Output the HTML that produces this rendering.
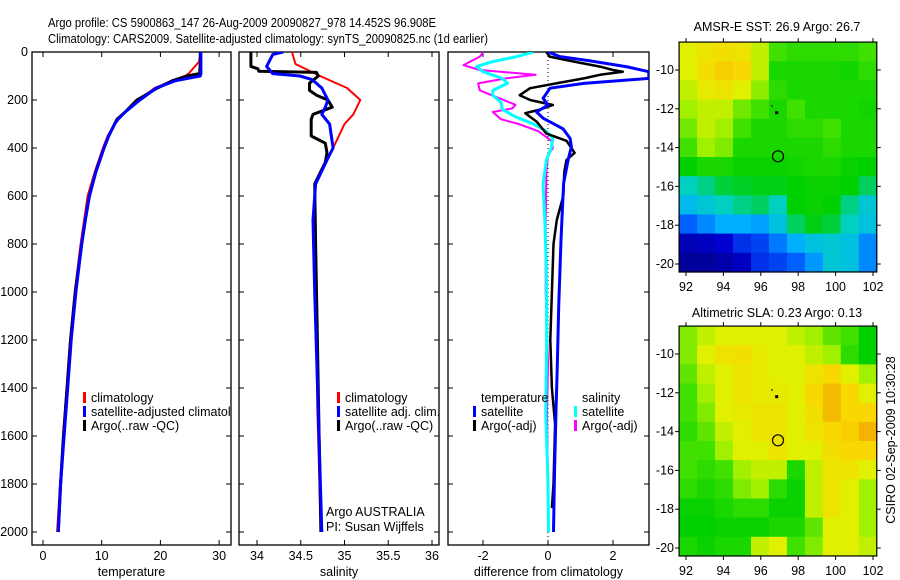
<!DOCTYPE html>
<html><head><meta charset="utf-8">
<style>
body{margin:0;background:#fff;}
svg{display:block;font-family:"Liberation Sans",sans-serif;}
text{fill:#000;}
</style></head>
<body>
<svg id="chart" width="900" height="580" viewBox="0 0 900 580">
<text x="48" y="27" font-size="13" textLength="388" lengthAdjust="spacingAndGlyphs">Argo profile: CS 5900863_147 26-Aug-2009 20090827_978 14.452S 96.908E</text>
<text x="48" y="43" font-size="13" textLength="440" lengthAdjust="spacingAndGlyphs">Climatology: CARS2009. Satellite-adjusted climatology: synTS_20090825.nc (1d earlier)</text>
<text transform="translate(895,440) rotate(-90)" text-anchor="middle" font-size="12.5">CSIRO 02-Sep-2009 10:30:28</text>
</svg>
<script>
// ---------- data ----------
const depthTicks = [0,200,400,600,800,1000,1200,1400,1600,1800,2000];
const tempTicks = [0,10,20,30];
const salTicks = [34,34.5,35,35.5,36];
const diffTicks = [-2,0,2];
const lonTicks = [92,94,96,98,100,102];
const latTicks = [-10,-12,-14,-16,-18,-20];

const depthT = [0,40,90,100,120,150,200,250,280,300,350,400,500,600,700,800,1000,1200,1400,1600,1800,2000];
const climT  = [26.8,26.6,24.8,24.2,22,19,16.3,14,12.9,12.2,11,10.2,8.8,7.6,7,6.4,5.4,4.6,4,3.4,2.9,2.4];
const satT   = [26.9,26.9,26.9,26.8,22.5,19.3,16.5,14,12.8,12.2,11.2,10.4,9,7.9,7.2,6.6,5.6,4.8,4.2,3.6,3,2.6];
const argoT  = [26.8,26.8,26.7,24.5,22,19.5,16,14,12.6,12.2,11.2,10.4,9,7.9,7.2,6.6,5.5,4.7,4.1,3.5,3,2.6];

const depthSc = [0,50,100,150,200,260,300,400,500,550,800,1000,1500,2000];
const climS   = [34.40,34.44,34.72,35.03,35.18,35.1,35.0,34.87,34.72,34.66,34.66,34.67,34.69,34.73];
const depthSs = [0,10,60,90,100,115,150,200,230,260,300,400,450,550,700,1000,1500,2000];
const satS    = [34.30,34.18,34.11,34.18,34.49,34.63,34.74,34.81,34.78,34.74,34.83,34.87,34.80,34.67,34.64,34.66,34.70,34.74];
const depthSa = [0,60,70,80,85,100,130,160,180,200,230,260,280,350,380,420,460,550,800,1200,1600,2000];
const argoS   = [33.93,33.93,34.01,34.02,34.68,34.70,34.6,34.6,34.68,34.81,34.86,34.64,34.62,34.62,34.78,34.80,34.78,34.66,34.67,34.69,34.71,34.73];

const dDepthTs = [0,19,35,61,82,110,131,151,193,221,250,276,320,360,394,450,547,783,1061,1339,1478,1756,2000];
const dTsat    = [0,0.37,1.2,2.4,3.1,3.1,1.1,0.06,-0.15,0,-0.35,-0.15,0.46,0.68,0.72,0.62,0.48,0.4,0.33,0.28,0.25,0.2,0.17];
const dDepthTa = [0,19,40,61,75,82,95,110,131,151,180,200,221,240,255,290,340,370,400,420,450,500,600,700,800,1000,1200,1400,1550,1800,1900];
const dTargo   = [-0.05,0.05,0.8,1.6,2.0,2.3,1.6,1.1,0.25,-0.55,-0.87,-0.55,0.15,-0.25,-0.7,-0.35,-0.05,0.57,0.72,0.82,0.57,0.5,0.47,0.27,0.17,0.12,0.07,0.12,0.22,0.17,0.12];
const dDepthSs = [0,19,40,61,82,110,131,160,180,210,240,270,300,330,360,400,450,550,700,900,1200,1500,1800,2000];
const dSsat    = [-0.45,-0.96,-1.7,-2.2,-2.0,-1.4,-1.25,-1.7,-1.7,-1.45,-1.4,-1.0,-0.45,-0.05,0.15,0.1,-0.05,-0.15,-0.1,-0.05,-0.04,-0.07,0,0.02];
const dDepthSa = [0,19,40,55,75,95,110,131,160,190,220,235,250,280,300,330,370,400,430,500,700,1000,1300,1500,1800,1950];
const dSargo   = [-1.98,-2.1,-2.4,-2.6,-2.1,-0.38,-1.3,-2.15,-2.1,-1.55,-1.0,-1.1,-1.7,-1.45,-0.9,-0.3,0.1,0.15,0,-0.05,-0.07,-0.07,0,-0.03,0,0.02];

const sstGrid = [
[.72,.74,.75,.74,.70,.62,.60,.60,.60,.60,.62],
[.72,.75,.77,.76,.70,.58,.58,.58,.58,.57,.60],
[.70,.73,.74,.72,.67,.60,.58,.58,.58,.58,.58],
[.68,.70,.70,.65,.62,.58,.62,.58,.58,.58,.57],
[.65,.70,.68,.62,.58,.58,.60,.60,.62,.58,.58],
[.62,.68,.66,.58,.58,.58,.58,.58,.60,.58,.58],
[.55,.58,.58,.56,.56,.56,.57,.58,.58,.56,.55],
[.45,.48,.52,.53,.54,.54,.55,.56,.56,.55,.50],
[.38,.42,.45,.48,.50,.45,.55,.56,.55,.48,.42],
[.25,.30,.35,.35,.33,.40,.50,.54,.52,.45,.40],
[.10,.12,.15,.20,.22,.28,.35,.40,.42,.40,.30],
[.05,.05,.08,.12,.20,.22,.25,.32,.42,.40,.30]];
const slaGrid = [
[.66,.70,.72,.72,.72,.72,.70,.68,.64,.62,.55],
[.66,.72,.74,.75,.73,.72,.72,.70,.68,.60,.55],
[.64,.70,.72,.74,.73,.72,.72,.74,.76,.72,.68],
[.62,.68,.72,.74,.73,.73,.72,.76,.79,.76,.72],
[.62,.66,.72,.73,.74,.74,.72,.75,.79,.76,.76],
[.60,.64,.70,.72,.74,.74,.72,.74,.76,.77,.80],
[.62,.62,.68,.72,.72,.74,.72,.72,.75,.76,.76],
[.62,.60,.62,.68,.70,.70,.58,.70,.74,.74,.72],
[.60,.58,.60,.66,.68,.60,.56,.70,.74,.72,.68],
[.56,.56,.58,.60,.60,.56,.56,.70,.74,.72,.68],
[.55,.55,.56,.56,.56,.58,.58,.64,.72,.72,.68],
[.58,.56,.58,.58,.70,.72,.62,.66,.72,.72,.70]];

// ---------- helpers ----------
const NS="http://www.w3.org/2000/svg";
const svg=document.getElementById('chart');
function mk(tag,attrs,parent){const e=document.createElementNS(NS,tag);for(const k in attrs)e.setAttribute(k,attrs[k]);(parent||svg).appendChild(e);return e;}
const yD = d => 52 + d*0.24;
const PT=52, PB=545;

function panel(x0,x1,name,xs,ticks,label,xlabelName){
  const g=mk('g',{});
  
  
  const r=mk('rect',{x:x0,y:PT,width:x1-x0,height:PB-PT,fill:'none',stroke:'#000','stroke-width':1.3},g);
  
  
  depthTicks.forEach(d=>{
    mk('line',{x1:x0,x2:x0+5,y1:yD(d),y2:yD(d),stroke:'#000'},g);
    mk('line',{x1:x1-5,x2:x1,y1:yD(d),y2:yD(d),stroke:'#000'},g);
  });
  ticks.forEach(v=>{
    const x=xs(v);
    mk('line',{x1:x,x2:x,y1:PB,y2:PB-5,stroke:'#000'},g);
    mk('line',{x1:x,x2:x,y1:PT,y2:PT+5,stroke:'#000'},g);
    const t=mk('text',{x:x,y:560,'text-anchor':'middle','font-size':12.5},g);
    t.textContent=String(v);
    
    
  });
  const t=mk('text',{x:(x0+x1)/2,y:576,'text-anchor':'middle','font-size':12.5},g);
  t.textContent=label;
  
  
  return g;
}
function line(xs,depths,vals,color,w,name,clipId){
  const pts=depths.map((d,i)=>xs(vals[i]).toFixed(1)+','+yD(d).toFixed(1)).join(' ');
  const p=mk('polyline',{points:pts,fill:'none',stroke:color,'stroke-width':w,'stroke-linejoin':'round'});
  if(clipId)p.setAttribute('clip-path','url(#'+clipId+')');
  
  
}
function legend(x,y,color,label,name,clipId){
  const g=mk('g',{});
  if(clipId)g.setAttribute('clip-path','url(#'+clipId+')');
  
  
  if(color) mk('rect',{x:x,y:y-10,width:3,height:11,fill:color},g);
  const t=mk('text',{x:x+8,y:y,'font-size':12.5},g);
  t.textContent=label;
}

// clip paths
const defs=mk('defs',{});
[['c1',32,231],['c2',239,439],['c3',448,649]].forEach(c=>{
  const cp=mk('clipPath',{id:c[0]},defs);
  mk('rect',{x:c[1],y:PT,width:c[2]-c[1],height:PB-PT},cp);
});

// depth labels
depthTicks.forEach(d=>{
  const t=mk('text',{x:28,y:yD(d)+4,'text-anchor':'end','font-size':12.5});
  t.textContent=String(d);
  
  
});

// panel 1 temperature
const xT = v => 43 + v*5.87;
panel(32,231,'temperature-panel',xT,tempTicks,'temperature','temperature-axis-title');
line(xT,depthT,climT,'#f00',2,'temperature-climatology-line','c1');
line(xT,depthT,argoT,'#000',3,'temperature-argo-line','c1');
line(xT,depthT,satT,'#00f',3,'temperature-satellite-line','c1');
legend(83,402,'#f00','climatology','legend-climatology','c1');
legend(83,416,'#00f','satellite-adjusted climatology','legend-satellite-adjusted','c1');
legend(83,430,'#000','Argo(..raw -QC)','legend-argo','c1');

// panel 2 salinity
const xS = v => 257 + (v-34)*87.5;
panel(239,439,'salinity-panel',xS,salTicks,'salinity','salinity-axis-title');
line(xS,depthSc,climS,'#f00',2,'salinity-climatology-line','c2');
line(xS,depthSa,argoS,'#000',3,'salinity-argo-line','c2');
line(xS,depthSs,satS,'#00f',3,'salinity-satellite-line','c2');
legend(337,402,'#f00','climatology','legend-sal-climatology','c2');
legend(337,416,'#00f','satellite adj. clim.','legend-sal-satellite','c2');
legend(337,430,'#000','Argo(..raw -QC)','legend-sal-argo','c2');
const a1=mk('text',{x:326,y:516,'font-size':12.5});a1.textContent='Argo AUSTRALIA';


const a2=mk('text',{x:326,y:531,'font-size':12.5});a2.textContent='PI: Susan Wijffels';



// panel 3 difference
const xDf = v => 548 + v*32.5;
panel(448,649,'difference-panel',xDf,diffTicks,'difference from climatology','difference-axis-title');
const zl=mk('line',{x1:548,x2:548,y1:PT,y2:PB,stroke:'#000','stroke-dasharray':'1,3'});


line(xDf,dDepthSa,dSargo,'#f0f',2,'salinity-argo-diff-line','c3');
line(xDf,dDepthSs,dSsat,'#0ff',3,'salinity-satellite-diff-line','c3');
line(xDf,dDepthTa,dTargo,'#000',2.5,'temperature-argo-diff-line','c3');
line(xDf,dDepthTs,dTsat,'#00f',3,'temperature-satellite-diff-line','c3');
legend(473,402,null,'temperature','legend-temperature-header');
legend(473,416,'#00f','satellite','legend-temp-satellite');
legend(473,430,'#000','Argo(-adj)','legend-temp-argo');
legend(574,402,null,'salinity','legend-salinity-header');
legend(574,416,'#0ff','satellite','legend-sal-sat');
legend(574,430,'#f0f','Argo(-adj)','legend-sal-argo2');

// ---------- maps ----------
const stops=[[0,[0,0,128]],[0.15,[0,0,208]],[0.25,[0,96,255]],[0.35,[0,176,255]],[0.45,[0,208,192]],[0.55,[0,208,0]],[0.62,[64,224,0]],[0.68,[160,240,0]],[0.72,[224,240,0]],[0.76,[248,216,0]],[0.82,[240,160,0]],[1,[224,0,0]]];
function cmap(v){
  for(let i=1;i<stops.length;i++){
    if(v<=stops[i][0]){const a=stops[i-1],b=stops[i];const t=(v-a[0])/(b[0]-a[0]);
      const c=a[1].map((x,k)=>Math.round(x+(b[1][k]-x)*t));return 'rgb('+c.join(',')+')';}
  }
  return 'rgb(224,0,0)';
}
function map(top,titleY,grid,title,name){
  const lonX = lon => 686 + (lon-92)*18.7;
  const latY = lat => top + 38 + (-10-lat)*19.4;
  const L=91.63,R=102.2,T=-8.56,B=-20.41;
  const g=mk('g',{});
  
  
  const nr=grid.length,nc=grid[0].length;
  const dLon=(R-L)/nc,dLat=(T-B)/nr;
  grid.forEach((row,i)=>row.forEach((v,j)=>{
    const x0=lonX(L+j*dLon),x1=lonX(L+(j+1)*dLon),y0=latY(T-i*dLat),y1=latY(T-(i+1)*dLat);
    const c=mk('rect',{x:x0.toFixed(1),y:y0.toFixed(1),width:(x1-x0+0.6).toFixed(1),height:(y1-y0+0.6).toFixed(1),fill:cmap(v)},g);
    
    
  }));
  mk('rect',{x:lonX(L),y:latY(T),width:lonX(R)-lonX(L),height:latY(B)-latY(T),fill:'none',stroke:'#000','stroke-width':1.2},g);
  lonTicks.forEach(lon=>{
    const x=lonX(lon);
    mk('line',{x1:x,x2:x,y1:latY(B),y2:latY(B)+4,stroke:'#000'},g);
    mk('line',{x1:x,x2:x,y1:latY(T),y2:latY(T)-4,stroke:'#000'},g);
    const t=mk('text',{x:x,y:latY(B)+19,'text-anchor':'middle','font-size':12.5},g);t.textContent=String(lon);
  });
  latTicks.forEach(lat=>{
    const y=latY(lat);
    mk('line',{x1:lonX(L),x2:lonX(L)-4,y1:y,y2:y,stroke:'#000'},g);
    mk('line',{x1:lonX(R),x2:lonX(R)+4,y1:y,y2:y,stroke:'#000'},g);
    const t=mk('text',{x:674,y:y+4,'text-anchor':'end','font-size':12.5},g);t.textContent=String(lat);
  });
  const tt=mk('text',{x:777,y:titleY,'text-anchor':'middle','font-size':12.5},g);tt.textContent=title;
  
  
  const c=mk('circle',{cx:lonX(96.92),cy:latY(-14.45),r:5.5,fill:'none',stroke:'#000','stroke-width':1.2},g);
  
  
  mk('rect',{x:lonX(96.85)-1.5,y:latY(-12.2)-1.5,width:3,height:3,fill:'#000'},g);
  mk('rect',{x:lonX(96.6)-0.5,y:latY(-11.85)-1,width:1,height:2,fill:'#000'},g);
}
map(32,31,sstGrid,'AMSR-E SST: 26.9 Argo: 26.7','sst-map');
map(316,317,slaGrid,'Altimetric SLA: 0.23 Argo: 0.13','sla-map');
</script>
</body></html>
